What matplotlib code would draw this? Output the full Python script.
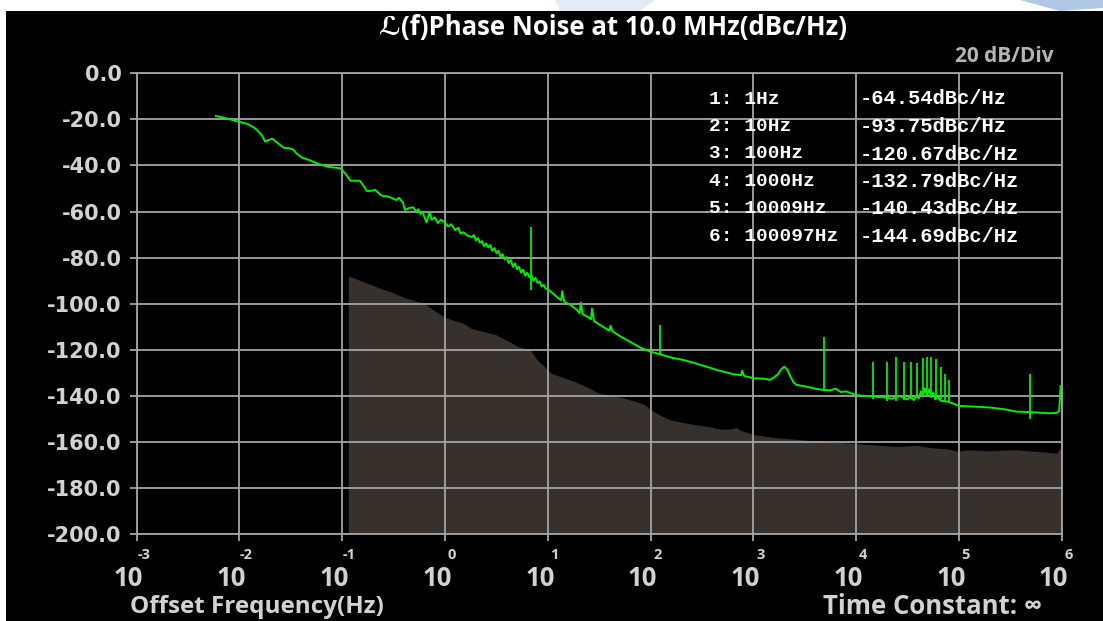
import numpy as np
import matplotlib.pyplot as plt
from matplotlib.patches import Rectangle, Polygon
import matplotlib.transforms as mtransforms

# ---- data ----
# measured phase noise trace: log10(offset Hz) and dBc/Hz
trace_logf = [-2.23, -2.15, -2.05, -2.00, -1.92, -1.86, -1.83, -1.78, -1.75, -1.72,
              -1.68, -1.62, -1.57, -1.52, -1.48, -1.44, -1.39, -1.30, -1.25, -1.15,
              -1.02, -0.97, -0.92, -0.83, -0.79, -0.76, -0.72, -0.68, -0.62, -0.60,
              -0.55, -0.50, -0.47, -0.45, -0.41, -0.39, -0.35, -0.31, -0.28, -0.26,
              -0.24, -0.22, -0.20, -0.18, -0.15, -0.13, -0.10, -0.07, -0.04, 0.00,
              0.03, 0.06, 0.10, 0.13, 0.15, 0.18, 0.22, 0.26, 0.28,
              0.30, 0.32, 0.34, 0.36, 0.38, 0.40, 0.42, 0.44, 0.46, 0.48,
              0.50, 0.52, 0.54, 0.56, 0.58, 0.60, 0.62, 0.64, 0.66, 0.68,
              0.70, 0.72, 0.74, 0.76, 0.78, 0.80, 0.82, 0.84, 0.86, 0.88,
              0.90, 0.92, 0.94, 0.96, 0.98, 1.00,
              1.05, 1.10, 1.13, 1.14, 1.16, 1.22, 1.28, 1.31, 1.32,
              1.34, 1.40, 1.42, 1.43, 1.45, 1.52, 1.60, 1.61, 1.63, 1.70,
              1.80, 1.90, 2.00, 2.10, 2.20, 2.32, 2.45, 2.55, 2.645, 2.80,
              2.88, 2.89, 2.91, 3.00, 3.10, 3.16, 3.20, 3.24, 3.27, 3.30,
              3.33, 3.36, 3.39, 3.42, 3.50, 3.60, 3.68, 3.75, 3.80, 3.85,
              3.90, 4.00, 4.10, 4.20, 4.27, 4.35, 4.42, 4.50, 4.53, 4.56,
              4.59, 4.61, 4.63, 4.65, 4.67, 4.69, 4.71, 4.73, 4.75, 4.77,
              4.79, 4.82, 4.86, 4.90,
              5.00, 5.15, 5.30, 5.45, 5.56, 5.70, 5.80, 5.889, 5.95, 5.975,
              5.99]
trace_db = [-18.5, -19.3, -20.5, -21.1, -22.0, -23.5, -24.6, -27.0, -29.7, -29.0,
            -28.4, -30.5, -32.3, -32.5, -33.0, -35.0, -36.6, -38.0, -39.0, -40.5,
            -41.2, -43.5, -46.6, -46.6, -49.0, -51.1, -51.0, -50.6, -53.0, -53.2,
            -53.5, -54.5, -55.0, -54.0, -56.0, -59.3, -58.5, -58.1, -60.0, -59.0,
            -61.0, -60.0, -62.5, -64.6, -60.0, -63.5, -62.5, -65.0, -63.5, -64.8,
            -66.5, -65.5, -68.0, -67.0, -69.5, -69.0, -70.5, -71.0, -70.2,
            -72.5, -71.5, -73.5, -72.8, -75.0, -73.8, -75.5, -74.5, -77.0, -75.8,
            -78.0, -77.0, -79.5, -78.5, -80.8, -79.8, -82.3, -81.0, -84.0, -82.5,
            -85.0, -84.0, -86.5, -85.2, -87.8, -86.5, -88.5, -87.5, -90.0, -88.8,
            -91.0, -90.3, -92.5, -91.8, -93.5, -93.7,
            -95.5, -97.5, -98.5, -94.5, -99.1, -100.5, -102.5, -104.1, -99.5,
            -104.5, -106.0, -106.8, -102.0, -107.5, -109.5, -111.7, -109.5, -112.0, -114.0,
            -116.5, -119.0, -120.8, -122.0, -123.3, -124.4, -126.0, -127.4, -128.7, -130.5,
            -131.0, -129.0, -131.3, -132.3, -132.5, -133.0, -132.0, -130.5, -128.5, -127.3,
            -128.5, -131.5, -134.0, -135.2, -135.8, -136.8, -137.4, -137.5, -136.8, -138.3,
            -138.0, -139.6, -140.0, -140.4, -140.6, -141.2, -140.0, -141.5, -140.0, -141.8,
            -139.5, -141.0, -138.0, -140.0, -136.7, -139.5, -137.0, -140.5, -138.5, -141.5,
            -140.0, -142.0, -142.3, -142.5,
            -144.3, -144.6, -145.0, -145.8, -146.8, -147.0, -147.3, -147.5, -147.3, -146.5,
            -135.7]

# discrete spurs: log10(offset), top and bottom of the vertical line (dBc/Hz)
spur_logf = [0.837, 2.09, 3.69, 4.163, 4.299, 4.390, 4.461, 4.536, 4.594,
             4.650, 4.689, 4.731, 4.780, 4.825, 4.867, 4.899, 5.694]
spur_top = [-66.5, -109.2, -114.5, -125.1, -125.1, -123.2, -125.1, -125.1, -125.8,
            -123.6, -123.2, -123.2, -124.1, -127.3, -130.5, -133.1, -130.5]
spur_bottom = [-94.0, -122.0, -137.8, -141.5, -142.0, -142.0, -141.8, -141.5, -141.0,
               -140.0, -139.5, -140.0, -141.0, -141.5, -142.0, -142.5, -150.1]

# system noise floor (grey area)
floor_logf = [-0.94, -0.80, -0.665, -0.50, -0.40, -0.20, -0.18, -0.10, 0.00, 0.18,
              0.255, 0.40, 0.50, 0.714, 0.83, 0.898, 0.96, 1.036, 1.15, 1.266,
              1.40, 1.495, 1.70, 1.863, 1.95, 2.00, 2.10, 2.185, 2.40, 2.552,
              2.70, 2.80, 2.83, 2.88, 3.012, 3.20, 3.472, 3.70, 3.931, 4.10,
              4.39, 4.60, 4.75, 4.90, 4.988, 5.08, 5.30, 5.54, 5.75, 5.953,
              5.976, 6.00]
floor_db = [-87.9, -90.3, -92.7, -95.3, -97.2, -100.0, -100.5, -103.0, -105.9, -108.5,
            -110.7, -112.3, -113.5, -118.6, -120.0, -124.4, -127.0, -130.2, -132.0, -133.8,
            -136.5, -138.8, -140.5, -142.4, -144.0, -146.0, -148.5, -150.3, -152.2, -153.2,
            -154.5, -154.2, -153.6, -155.0, -156.8, -158.0, -159.0, -159.8, -160.4, -161.0,
            -161.9, -161.5, -162.5, -163.0, -164.0, -163.3, -163.8, -163.3, -164.0, -164.8,
            -163.0, -163.0]

decades = [-3, -2, -1, 0, 1, 2, 3, 4, 5, 6]
y_ticks = [0, -20, -40, -60, -80, -100, -120, -140, -160, -180, -200]

markers = ["1: 1Hz", "2: 10Hz", "3: 100Hz", "4: 1000Hz", "5: 10009Hz", "6: 100097Hz"]
marker_vals = ["-64.54dBc/Hz", "-93.75dBc/Hz", "-120.67dBc/Hz",
               "-132.79dBc/Hz", "-140.43dBc/Hz", "-144.69dBc/Hz"]

W, H = 1103, 621
GRID = "#a4a4a4"
LABEL = "#d2d2d2"
SANS = ["Open Sans", "DejaVu Sans"]
MONO = ["Liberation Mono", "DejaVu Sans Mono"]


def fx(px):
    return px / W


def fy(py):
    return 1 - py / H


fig = plt.figure(figsize=(W / 100, H / 100), dpi=100)
fig.patch.set_facecolor("white")
# black instrument panel below the thin white strip
fig.add_artist(Rectangle((fx(6), 0), 1 - fx(6), fy(11), transform=fig.transFigure,
                         facecolor="black", edgecolor="none", zorder=0))
# faint watermark in the white strip
fig.add_artist(Polygon([(fx(555), fy(0)), (fx(655), fy(0)), (fx(640), fy(11)), (fx(560), fy(11))],
                       closed=True, transform=fig.transFigure, facecolor="#c8d8ee",
                       edgecolor="none", alpha=0.5, zorder=0))
fig.add_artist(Polygon([(fx(1020), fy(0)), (fx(1103), fy(0)), (fx(1103), fy(8)), (fx(1060), fy(11))],
                       closed=True, transform=fig.transFigure, facecolor="#8fb0dc",
                       edgecolor="none", alpha=0.7, zorder=0))

left, right = fx(136.7), fx(1061.7)
bottom, top = fy(534.3), fy(73.3)
ax = fig.add_axes([left, bottom, right - left, top - bottom])
ax.set_facecolor("black")
ax.set_xscale("log")
ax.set_xlim(1e-3, 1e6)
ax.set_ylim(-200, 0)

# noise floor
ff = 10.0 ** np.array(floor_logf)
ax.fill_between(ff, floor_db, -200, color="#36312d", linewidth=0, zorder=1)

# grid
ax.set_xticks([10.0 ** d for d in decades])
ax.set_xticklabels([""] * len(decades))
ax.xaxis.set_minor_locator(plt.NullLocator())
ax.set_yticks(y_ticks)
ax.set_yticklabels([f"{v:.1f}" for v in y_ticks], fontsize=15, fontweight="bold",
                   color=LABEL, family="DejaVu Sans")
ax.grid(True, color=GRID, linewidth=1.3, zorder=2)
ax.set_axisbelow(False)
for s in ax.spines.values():
    s.set_color(GRID)
    s.set_linewidth(1.3)
ax.tick_params(axis="both", which="major", color=GRID, width=1.3, length=5, direction="out")
ax.tick_params(axis="y", pad=6)

# trace + spurs
tf = 10.0 ** np.array(trace_logf)
ax.plot(tf, trace_db, color="#00ee00", linewidth=1.4, zorder=4)
sf = 10.0 ** np.array(spur_logf)
ax.vlines(sf, spur_bottom, spur_top, color="#00ee00", linewidth=1.3, zorder=4)

# decade tick labels: big "10" with a small exponent above
trans = mtransforms.blended_transform_factory(ax.transData, fig.transFigure)
for d in decades:
    x = 10.0 ** d
    off = mtransforms.offset_copy(trans, fig=fig, x=-8, y=0, units="dots")
    ax.text(x, fy(578), "10", transform=off, ha="center", va="center",
            fontsize=18.5, fontweight="bold", color=LABEL, family=SANS)
    off2 = mtransforms.offset_copy(trans, fig=fig, x=7, y=0, units="dots")
    ax.text(x, fy(555), f"{d}", transform=off2, ha="center", va="center",
            fontsize=10.5, fontweight="bold", color=LABEL, family=SANS)

# texts
fig.text(fx(613), fy(28), "\u2112(f)Phase Noise at 10.0 MHz(dBc/Hz)", ha="center", va="center",
         fontsize=18.5, fontweight="bold", color="white", family=SANS)
fig.text(fx(1054), fy(57), "20 dB/Div", ha="right", va="center",
         fontsize=15, fontweight="bold", color="#b4b4b4", family=SANS)
fig.text(fx(130), fy(607), "Offset Frequency(Hz)", ha="left", va="center",
         fontsize=17.5, fontweight="bold", color=LABEL, family=SANS)
fig.text(fx(1042), fy(607), "Time Constant: \u221e", ha="right", va="center",
         fontsize=18.5, fontweight="bold", color=LABEL, family=SANS)

row_y = [99, 126.5, 154, 181.5, 209, 236.5]
for ry, m, v in zip(row_y, markers, marker_vals):
    fig.text(fx(709), fy(ry), m, ha="left", va="center", fontsize=14,
             fontweight="bold", color="white", family=MONO)
    fig.text(fx(860), fy(ry), v, ha="left", va="center", fontsize=14.8,
             fontweight="bold", color="white", family=MONO)

fig.savefig("out.png", dpi=100, facecolor=fig.get_facecolor())
